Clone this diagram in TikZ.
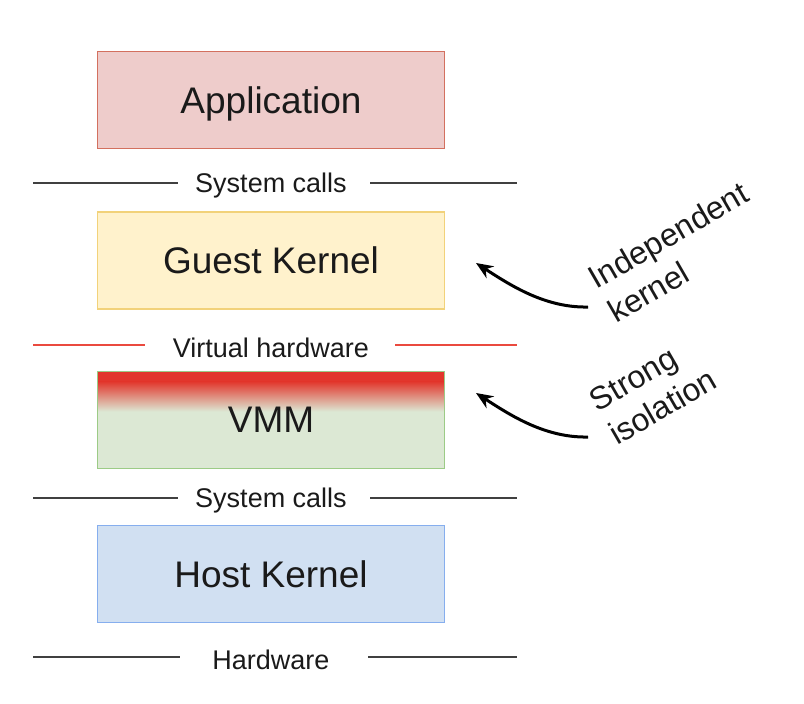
\documentclass[tikz,border=0pt]{standalone}
\usepackage{fontspec}
\setmainfont{Liberation Sans}
\usetikzlibrary{arrows.meta}
\definecolor{appfill}{HTML}{EECCCB}
\definecolor{appdraw}{HTML}{D3705F}
\definecolor{gkfill}{HTML}{FFF2CC}
\definecolor{gkdraw}{HTML}{F2D27A}
\definecolor{vmmfill}{HTML}{DCE8D4}
\definecolor{vmmdraw}{HTML}{9CCB86}
\definecolor{hkfill}{HTML}{D1E0F2}
\definecolor{hkdraw}{HTML}{86AEEE}
\definecolor{sepred}{HTML}{EA4A3F}
\definecolor{vmmred}{HTML}{E2362C}
\definecolor{sepgray}{HTML}{404040}
\definecolor{txt}{HTML}{1A1A1A}
\begin{document}
\begin{tikzpicture}[x=1pt,y=-1pt,
  layerbox/.style={rectangle, minimum width=347pt, minimum height=97pt, line width=1.4pt, inner sep=0pt,
    font=\fontsize{37}{40}\selectfont, text=txt, text depth=0pt},
  seplabel/.style={font=\fontsize{27}{30}\selectfont, text=txt, inner sep=0pt},
  sepline/.style={line width=1.8pt, draw=sepgray},
  redline/.style={line width=2.8pt, draw=sepred},
  note/.style={font=\fontsize{32}{39}\selectfont, text=txt, rotate=30, align=left, inner sep=0pt},
  arr/.style={line width=3pt, -{Stealth[length=17pt, width=14pt]}}
]
\useasboundingbox (0,0) rectangle (804,704);

% layer boxes
\node[layerbox, fill=appfill, draw=appdraw] (app) at (271,100) {Application};
\node[layerbox, fill=gkfill, draw=gkdraw] (gk) at (271,260.5) {Guest Kernel};
\node[layerbox, fill=vmmfill, draw=vmmdraw,
  path picture={
    \fill[vmmred] (path picture bounding box.north west) rectangle ([yshift=-10pt]path picture bounding box.north east);
    \shade[top color=vmmred, bottom color=vmmfill] ([yshift=-10pt]path picture bounding box.north west) rectangle ([yshift=-40pt]path picture bounding box.north east);
  }] (vmm) at (271,420) {VMM};
\node[layerbox, fill=hkfill, draw=hkdraw] (hk) at (271,574) {Host Kernel};

% separators
\node[seplabel] (sc1) at (271,186) {System calls};
\coordinate (sc1l) at (33,183); \coordinate (sc1la) at (178,183);
\coordinate (sc1r) at (370,183); \coordinate (sc1rb) at (517,183);
\draw[sepline] (sc1l) -- (sc1la);
\draw[sepline] (sc1r) -- (sc1rb);

\node[seplabel] (vh) at (271,348) {Virtual hardware};
\coordinate (vhl) at (33,345); \coordinate (vhla) at (145,345);
\coordinate (vhr) at (395,345); \coordinate (vhrb) at (517,345);
\draw[redline] (vhl) -- (vhla);
\draw[redline] (vhr) -- (vhrb);

\node[seplabel] (sc2) at (271,501) {System calls};
\coordinate (sc2l) at (33,498); \coordinate (sc2la) at (178,498);
\coordinate (sc2r) at (370,498); \coordinate (sc2rb) at (517,498);
\draw[sepline] (sc2l) -- (sc2la);
\draw[sepline] (sc2r) -- (sc2rb);

\node[seplabel] (hw) at (271,660) {Hardware};
\coordinate (hwl) at (33,657); \coordinate (hwla) at (180,657);
\coordinate (hwr) at (368,657); \coordinate (hwrb) at (517,657);
\draw[sepline] (hwl) -- (hwla);
\draw[sepline] (hwr) -- (hwrb);

% annotations
\node[note] (ik) at (678,252) {Independent\\kernel};
\node[note] (si) at (653,390) {Strong\\isolation};

\coordinate (iks) at (588,307); \coordinate (ikt) at (476,263);
\draw[arr] (iks) .. controls (545,308) and (510,285) .. (ikt);
\coordinate (sis) at (588,437); \coordinate (sit) at (476,393);
\draw[arr] (sis) .. controls (545,438) and (510,415) .. (sit);
\end{tikzpicture}
\end{document}
